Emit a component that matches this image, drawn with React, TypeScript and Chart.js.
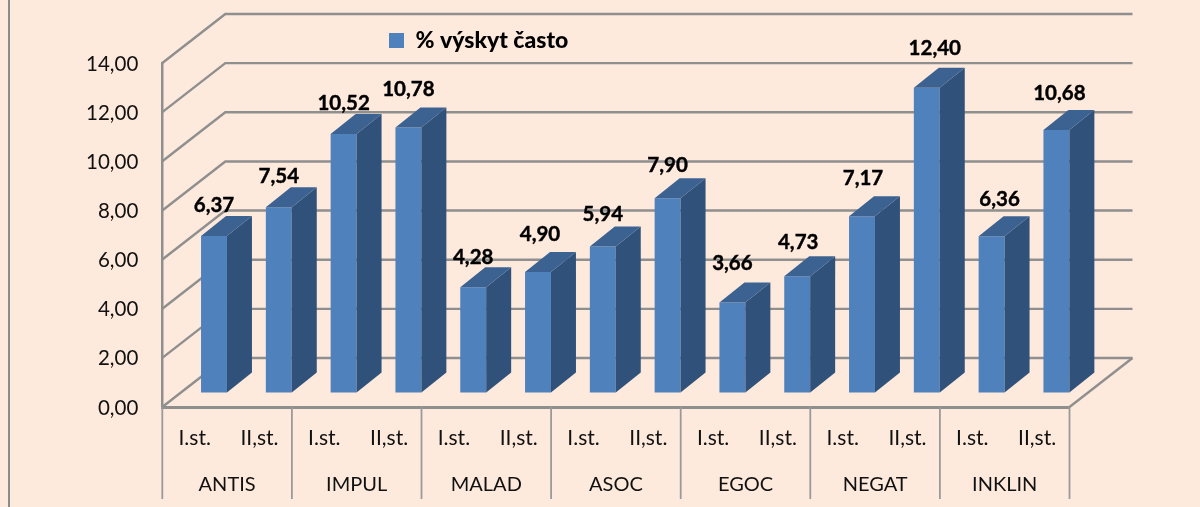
import React, { useEffect, useRef } from "react";
import { Chart, registerables } from "chart.js";

Chart.register(...registerables);

const stages = ["I.st.", "II,st.", "I.st.", "II,st.", "I.st.", "II,st.", "I.st.", "II,st.", "I.st.", "II,st.", "I.st.", "II,st.", "I.st.", "II,st."];
const groups = ["ANTIS", "IMPUL", "MALAD", "ASOC", "EGOC", "NEGAT", "INKLIN"];
const values = [6.37, 7.54, 10.52, 10.78, 4.28, 4.9, 5.94, 7.9, 3.66, 4.73, 7.17, 12.4, 6.36, 10.68];
const seriesName = "% výskyt často";

// manual nudges of the value labels, as dragged by hand in the original
const labelNudgeX = [0, 0, 0, 0, 0, 2, 0, 0, 0, 1, 1, 8, 8, 3];
const labelLift = [30, 31, 31, 38, 30, 38, 32, 33, 39, 34, 38, 39, 37, 37];

const FONT = "Lato, Carlito, 'Open Sans', sans-serif";
const BG = "#fdeadc";
const GRID = "#8f8f8f";
const FRONT = "#4f81bd";
const SIDE = "#30517a";
const TOP = "#3c6291";
const WALL = { dx: 63, dy: -49 };
const PLANE = { dx: 19.3, dy: -14.6 };
const FACE = { dx: 25, dy: -20 };

const fmt = (v: number) => v.toFixed(2).replace(".", ",");

const poly = (ctx: CanvasRenderingContext2D, pts: number[][], fill: string) => {
  ctx.beginPath();
  pts.forEach((p, i) => (i ? ctx.lineTo(p[0], p[1]) : ctx.moveTo(p[0], p[1])));
  ctx.closePath();
  ctx.fillStyle = fill;
  ctx.fill();
};

const scene = {
  id: "scene3d",
  beforeDraw(chart: any) {
    const { ctx, width, height } = chart;
    ctx.save();
    ctx.fillStyle = BG;
    ctx.fillRect(0, 0, width, height);
    ctx.fillStyle = "#8c8c8c";
    ctx.fillRect(8, 0, 2, height);
    ctx.restore();
  },
  beforeDatasetsDraw(chart: any) {
    const { ctx, chartArea: a, scales } = chart;
    ctx.save();
    ctx.strokeStyle = GRID;
    ctx.lineWidth = 2.4;
    scales.y.ticks.forEach((t: any) => {
      const y = scales.y.getPixelForValue(t.value);
      ctx.beginPath();
      ctx.moveTo(a.left, y);
      ctx.lineTo(a.left + WALL.dx, y + WALL.dy);
      ctx.lineTo(a.right + WALL.dx, y + WALL.dy);
      ctx.stroke();
    });
    ctx.beginPath();
    ctx.moveTo(a.right, a.bottom);
    ctx.lineTo(a.right + WALL.dx, a.bottom + WALL.dy);
    ctx.stroke();
    // group separators below the axis
    const x2 = scales.x2;
    const step = (x2.right - x2.left) / groups.length;
    ctx.lineWidth = 1.8;
    ctx.strokeStyle = "#9a9a9a";
    for (let i = 0; i <= groups.length; i++) {
      const x = x2.left + i * step;
      ctx.beginPath();
      ctx.moveTo(x, a.bottom);
      ctx.lineTo(x, x2.bottom);
      ctx.stroke();
    }
    ctx.restore();
    ctx.save();
    ctx.translate(PLANE.dx, PLANE.dy);
  },
  afterDatasetsDraw(chart: any) {
    const { ctx } = chart;
    const bars = chart.getDatasetMeta(0).data;
    bars.forEach((b: any) => {
      const r = b.x + b.width / 2;
      const l = b.x - b.width / 2;
      poly(ctx, [[r, b.y], [r + FACE.dx, b.y + FACE.dy], [r + FACE.dx, b.base + FACE.dy], [r, b.base]], SIDE);
      poly(ctx, [[l, b.y], [l + FACE.dx, b.y + FACE.dy], [r + FACE.dx, b.y + FACE.dy], [r, b.y]], TOP);
    });
    ctx.restore();
    ctx.save();
    ctx.font = `bold 20.5px ${FONT}`;
    ctx.fillStyle = "#000";
    ctx.strokeStyle = "#000";
    ctx.lineWidth = 0.4;
    ctx.textAlign = "center";
    ctx.textBaseline = "middle";
    bars.forEach((b: any, i: number) => {
      const x = b.x + PLANE.dx + labelNudgeX[i];
      const y = b.y + PLANE.dy - labelLift[i];
      ctx.fillText(fmt(values[i]), x, y);
      ctx.strokeText(fmt(values[i]), x, y);
    });
    ctx.restore();
  },
  afterLayout(chart: any) {
    const lg = chart.legend;
    if (lg) {
      const w = lg.right - lg.left;
      lg.left = 379;
      lg.right = 379 + w;
      lg.top = 19;
      lg.bottom = 59;
    }
  },
};

export default function App() {
  const ref = useRef<HTMLCanvasElement>(null);
  useEffect(() => {
    const chart = new Chart(ref.current as HTMLCanvasElement, {
      type: "bar",
      data: {
        labels: stages,
        datasets: [
          {
            label: seriesName,
            data: values,
            backgroundColor: FRONT,
            borderWidth: 0,
            barPercentage: 0.4,
            categoryPercentage: 1,
            clip: false,
            xAxisID: "x",
            yAxisID: "y",
          } as any,
        ],
      },
      options: {
        animation: false,
        responsive: false,
        layout: { padding: { left: 0, top: 63, right: 130.5, bottom: 8 } },
        plugins: {
          tooltip: { enabled: false },
          legend: {
            position: "chartArea" as any,
            align: "start",
            labels: {
              boxWidth: 15,
              boxHeight: 15,
              padding: 10,
              color: "#000",
              font: { family: FONT, size: 23, weight: "900" },
            },
          },
        },
        scales: {
          x: {
            type: "category",
            position: "bottom",
            offset: true,
            grid: { display: false },
            border: { display: true, color: GRID, width: 3 },
            afterFit: (s: any) => { s.height = 48; },
            ticks: { autoSkip: false, maxRotation: 0, minRotation: 0, padding: 11, color: "#111", font: { family: FONT, size: 21 } },
          },
          x2: {
            type: "category",
            position: "bottom",
            labels: groups,
            offset: true,
            grid: { display: false },
            border: { display: false },
            afterFit: (s: any) => { s.height = 44; },
            ticks: { autoSkip: false, maxRotation: 0, minRotation: 0, padding: 10, color: "#111", font: { family: FONT, size: 20 } },
          },
          y: {
            min: 0,
            max: 14,
            position: "left",
            grid: { display: false },
            border: { display: true, color: GRID, width: 2.5 },
            afterFit: (s: any) => { s.width = 162.3; },
            ticks: {
              stepSize: 2,
              padding: 16,
              labelOffset: 1,
              color: "#111",
              font: { family: FONT, size: 20.5 },
              callback: (v: any) => fmt(Number(v)),
            },
          },
        },
      },
      plugins: [scene],
    } as any);
    return () => chart.destroy();
  }, []);
  return (
    <div style={{ position: "fixed", left: 0, top: 0, width: 1200, height: 507, background: BG }}>
      <canvas ref={ref} width={1200} height={507} style={{ display: "block" }} />
    </div>
  );
}
